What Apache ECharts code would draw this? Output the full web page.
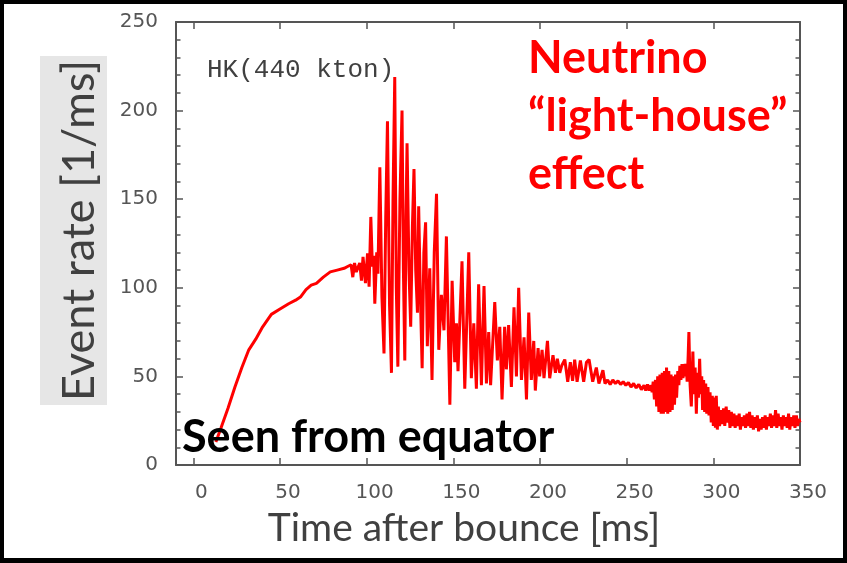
<!DOCTYPE html>
<html>
<head>
<meta charset="utf-8">
<script src="https://cdn.jsdelivr.net/npm/echarts@6/dist/echarts.min.js"></script>
<style>html,body{margin:0;padding:0;background:#000;}#chart{width:847px;height:563px;}</style>
</head>
<body>
<div id="chart"></div>
<script>
// Time after bounce [ms]
const timeMs = [
  13,16,20,24,28,32,36,40,45,50,55,59,62,65,68,71,75,79,83,87,89,91,92,93,94,95,96,97,97.9,99.3,100.5,101.4,102.4,103.3,104,104.7,105.8,106.5,
  107.6,108.8,110,111,112,113.2,114.3,115.2,116.2,117.1,118,119.2,120.4,121.2,122,122.7,123.3,124.4,125.4,126.4,127.3,128.3,129.3,130,131,132,133,134,135,
  136.4,137.7,139,140.3,141.6,143.1,144.6,146,148,149.3,150.8,151.8,152.7,
  155,156.6,158.9,160.4,161.8,163.3,164.6,166.2,167.7,169.1,170.4,171.5,173.9,175.4,176.8,178.1,179.6,180.6,181.9,183.5,185,186.4,187.7,189.3,
  190.8,192.2,193.5,195,196.4,197.3,198.9,199.8,201.2,202.3,204.3,205.6,207.5,208.9,210,211.4,212.5,214.3,216,217.5,218.8,220,221.4,223.3,225.2,
  226.8,228.3,230.4,232.5,234,236.3,237.5,239,240.5,242,243.5,245,246.5,248,249.5,251,252.5,254,255.5,257,258.5,260,261,262,263,
  264,264.7,265.3,266,266.6,267.3,267.9,268.6,269.2,269.9,270.5,271.2,271.8,272.5,273,273.7,274.3,275,275.6,276.3,276.9,277.6,278.2,278.8,279.5,
  280.1,280.7,281.3,281.9,282.5,283.1,283.7,284.3,284.9,285.5,285.9,286.6,287.3,288.2,288.8,289.5,290.2,290.8,291.4,292.1,292.7,293.3,293.8,
  294.4,295,295.6,296.2,296.9,297.5,298.1,298.8,299.4,300,300.6,301.2,301.7,302.3,
  302.9,303.6,304.4,305.1,305.9,306.6,307.4,308.1,308.9,309.6,310.4,311.1,311.9,312.6,313.4,314.1,314.9,315.6,316.4,317.1,317.9,318.6,319.4,
  320.1,320.9,321.6,322.4,323.1,323.9,324.6,325.4,326.1,326.9,327.6,328.4,329.1,329.9,330.6,331.4,332.1,332.9,333.6,334.4,335.1,335.9,336.6,
  337.4,338.1,338.9,339.6,340.4,341.1,341.9,342.6,343.4,344.1,344.9,345.6,346.4,347.1,347.9,348.6,349.4,350
];
// Event rate [1/ms]
const rateValues = [
  13,21,32,44,55,65,71,78,85,88,91,93,95,99,101.5,102.5,106,109,110,111,112,113,106,114,109,108,114,104,117.5,102.6,119.5,100.6,140,112,118,91,120,108,
  168,95,63,140,194,90,52,150,219,100,55.5,150,200,110,59,140,181.5,110,78,135,167,110,86,146,95,54.6,120,137,67,
  111,48,120,153,65,96,76,129,34,104,58,80,53,
  115,43,120,49,80,43,102,45,101,46,75,45,92,59,78,37,78,54,79,44,89,50,100,48,
  72,37,86,48,70,42,66,50,65,49,70,49,62,52,60,52,56,59.5,47,58,47.5,59.5,47,59,47,
  58,59.5,47,55,46,53.5,46,48,45.5,48,46,47.5,45.5,47,45,46.5,44,46,43.5,45.5,42.5,45,42,45.5,42,
  45,41,47,37,48,33,50,30,51,29,52,29,53,30,55,29,53,30,51,31,50,34,51,38,53,
  45,56,48,57,49,57,50,57,47,62,75,45,33,64,40,55,29,52,38,60,40,50,31,
  48,30,46,29,44,28,41,24,39,22,38,21,39,20,
  33,22,31,23,32,22,33,24,31,21,30,22,29,21,28,22,29,20,27,22,28,21,29,
  22,30,21,28,20,27,21,28,19,26,20,27,21,28,20,27,22,29,21,28,22,31,21,
  29,22,27,20,28,22,27,21,29,20,27,22,28,21,28,22,26,24
];
const xTicks = [0, 50, 100, 150, 200, 250, 300, 350];
const yTicks = [0, 50, 100, 150, 200, 250];

const seriesData = timeMs.map((t, i) => [t, rateValues[i]]);

const frameColor = '#555555';
const labelStyle = { fontFamily: 'DejaVu Sans', fontSize: 20, color: '#555555' };

const chart = echarts.init(document.getElementById('chart'), null, { renderer: 'canvas' });
chart.setOption({
  backgroundColor: '#000000',
  animation: false,
  grid: { left: 176, right: 47, top: 22, bottom: 98 },
  xAxis: [
    {
      type: 'value', min: -10, max: 350, position: 'bottom',
      name: 'Time after bounce [ms]', nameLocation: 'middle', nameGap: 44,
      nameTextStyle: { fontFamily: 'Lato', fontSize: 39, color: '#404040', padding: [0, 48, 0, 0] },
      axisLine: { show: true, onZero: false, lineStyle: { color: frameColor, width: 2 } },
      axisTick: { show: true, inside: true, length: 7, customValues: xTicks, lineStyle: { color: frameColor, width: 1.5 } },
      axisLabel: { show: true, customValues: xTicks, margin: 18, padding: [0, 0, 0, 16], ...labelStyle },
      splitLine: { show: false }
    },
    {
      type: 'value', min: -10, max: 350, position: 'top',
      axisLine: { show: true, onZero: false, lineStyle: { color: frameColor, width: 2 } },
      axisTick: { show: true, inside: true, length: 7, customValues: xTicks, lineStyle: { color: frameColor, width: 1.5 } },
      axisLabel: { show: false },
      splitLine: { show: false }
    }
  ],
  yAxis: [
    {
      type: 'value', min: 0, max: 250, interval: 50, position: 'left',
      name: 'Event rate [1/ms]', nameLocation: 'middle', nameGap: 74,
      nameTextStyle: { fontFamily: 'Lato', fontSize: 45, color: '#404040', padding: [0, 0, 0, 26] },
      axisLine: { show: true, onZero: false, lineStyle: { color: frameColor, width: 2 } },
      axisTick: { show: true, inside: true, length: 7, lineStyle: { color: frameColor, width: 1.5 } },
      minorTick: { show: true, splitNumber: 5, length: 4.5, lineStyle: { color: frameColor, width: 1.5 } },
      axisLabel: { show: true, margin: 18, ...labelStyle, customValues: yTicks },
      splitLine: { show: false }
    },
    {
      type: 'value', min: 0, max: 250, interval: 50, position: 'right',
      axisLine: { show: true, onZero: false, lineStyle: { color: frameColor, width: 2 } },
      axisTick: { show: true, inside: true, length: 7, lineStyle: { color: frameColor, width: 1.5 } },
      minorTick: { show: true, splitNumber: 5, length: 4.5, lineStyle: { color: frameColor, width: 1.5 } },
      axisLabel: { show: false },
      splitLine: { show: false }
    }
  ],
  graphic: [
    { type: 'rect', z: -20, shape: { x: 4, y: 4, width: 839, height: 554 }, style: { fill: '#ffffff' } },
    { type: 'rect', z: -10, shape: { x: 40, y: 56, width: 67, height: 349 }, style: { fill: '#e6e6e6' } },
    { type: 'text', z: 10, x: 207, y: 70, style: { text: 'HK(440 kton)', font: '26px "Liberation Mono"', fill: '#404040', textVerticalAlign: 'middle' } },
    { type: 'text', z: 10, x: 528, y: 29, style: { text: 'Neutrino\n\u201Clight-house\u201D\neffect', font: 'bold 45px Lato', lineHeight: 58, fill: '#ff0000', textVerticalAlign: 'top' } },
    { type: 'text', z: 10, x: 182, y: 437, style: { text: 'Seen from equator', font: 'bold 45px Lato', fill: '#000000', textVerticalAlign: 'middle' } }
  ],
  series: [
    {
      type: 'line', xAxisIndex: 0, yAxisIndex: 0, data: seriesData,
      showSymbol: false, symbol: 'none', clip: true,
      lineStyle: { color: '#ff0000', width: 3 },
      z: 3
    }
  ]
});
</script>
</body>
</html>
